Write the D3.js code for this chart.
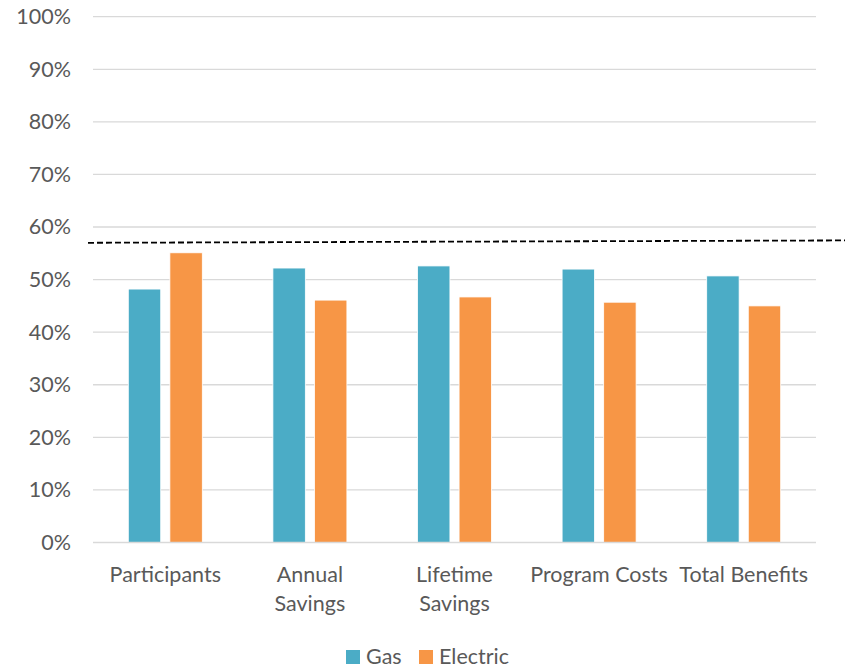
<!DOCTYPE html>
<html><head><meta charset="utf-8">
<script src="https://cdn.jsdelivr.net/npm/d3@7"></script>
<style>body{margin:0;background:#fff}svg{display:block}</style>
</head><body><svg id="c" width="852" height="668"></svg>
<script>
const categories = [["Participants"],["Annual","Savings"],["Lifetime","Savings"],["Program Costs"],["Total Benefits"]];
const seriesNames = ["Gas","Electric"];
const gasValues = [48.2, 52.2, 52.6, 52.0, 50.7];
const electricValues = [55.1, 46.1, 46.7, 45.7, 45.0];
const yTicks = [0,10,20,30,40,50,60,70,80,90,100];
const refLine = [57.0, 57.45];
const colors = ["#4BACC6","#F79646"];
const font = "Lato, 'Open Sans', sans-serif";
const fs = 21.5;

(function(){
const svg = d3.select("#c");
const pLeft = 93, pRight = 816, pTop = 16.7, pBottom = 542.5;
const y = d3.scaleLinear().domain([0,100]).range([pBottom, pTop]);
const x0 = d3.scaleBand().domain(d3.range(categories.length)).range([pLeft, pRight]).paddingInner(0).paddingOuter(0);
const x1 = d3.scaleBand().domain(seriesNames).range([x0.bandwidth()/2 - 37, x0.bandwidth()/2 + 37]).paddingInner(0.22);

svg.append("g").selectAll("line").data(yTicks.filter(d=>d>0)).join("line")
  .attr("x1", pLeft).attr("x2", pRight).attr("y1", d=>y(d)).attr("y2", d=>y(d))
  .attr("stroke", "#d9d9d9").attr("stroke-width", 1.3);

const yAxis = d3.axisLeft(y).tickValues(yTicks).tickFormat(d=>d+"%").tickSize(0).tickPadding(0);
const ya = svg.append("g").attr("transform", `translate(71,0)`).call(yAxis);
ya.select(".domain").remove();
ya.selectAll("text").attr("font-family", font).attr("font-size", fs).attr("fill", "#595959");

const data = categories.map((c,i)=>({i, vals:[gasValues[i], electricValues[i]]}));
const g = svg.append("g").selectAll("g").data(data).join("g")
  .attr("transform", d=>`translate(${x0(d.i)},0)`);
g.selectAll("rect").data(d=>d.vals.map((v,k)=>({k,v}))).join("rect")
  .attr("x", d=>x1(seriesNames[d.k])).attr("width", x1.bandwidth())
  .attr("y", d=>y(d.v)).attr("height", d=>pBottom - y(d.v))
  .attr("fill", d=>colors[d.k]).attr("stroke", "#fff").attr("stroke-width", 0.8);

svg.append("line").attr("x1", pLeft).attr("x2", pRight).attr("y1", pBottom).attr("y2", pBottom)
  .attr("stroke", "#d9d9d9").attr("stroke-width", 1.5);

const cl = svg.append("g").selectAll("text").data(categories).join("text")
  .attr("x", (d,i)=>x0(i)+x0.bandwidth()/2).attr("y", 582)
  .attr("text-anchor", "middle").attr("font-family", font).attr("font-size", fs).attr("fill", "#595959");
cl.selectAll("tspan").data(d=>d).join("tspan")
  .attr("x", function(){return this.parentNode.getAttribute("x");})
  .attr("dy", (d,i)=>i===0?0:29).text(d=>d);

const xr = d3.scaleLinear().domain([0,1]).range([88, 845]);
svg.append("line").attr("x1", xr(0)).attr("x2", xr(1)).attr("y1", y(refLine[0])).attr("y2", y(refLine[1]))
  .attr("stroke", "#000").attr("stroke-width", 1.8).attr("stroke-dasharray", "6,3");

const leg = svg.append("g");
const legX = [346, 419];
seriesNames.forEach((s,k)=>{
  leg.append("rect").attr("x", legX[k]).attr("y", 650).attr("width", 14).attr("height", 14).attr("fill", colors[k]);
  leg.append("text").attr("x", legX[k]+20).attr("y", 664).attr("font-family", font).attr("font-size", fs)
    .attr("fill", "#595959").text(s);
});
})();
</script></body></html>
